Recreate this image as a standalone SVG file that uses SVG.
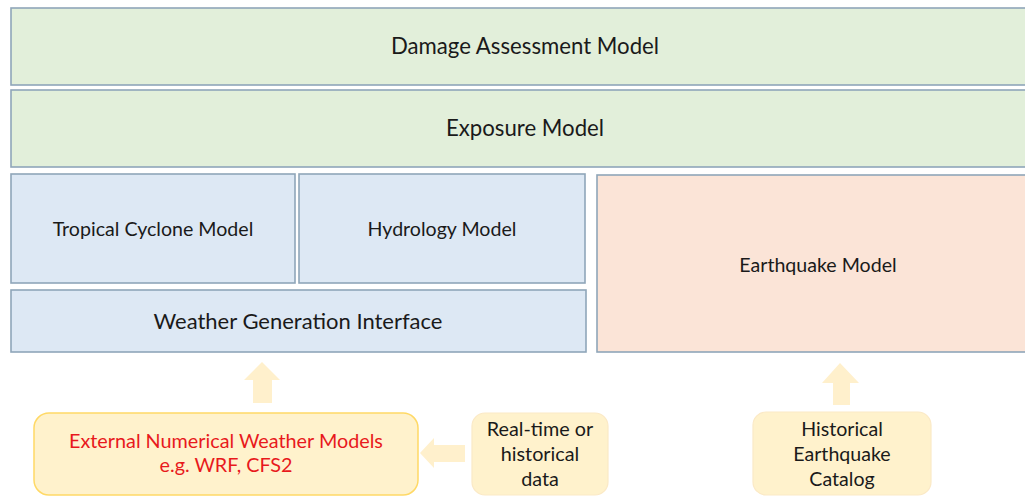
<svg xmlns="http://www.w3.org/2000/svg" width="1025" height="496" viewBox="0 0 1025 496">
<style>
.box{stroke:#8fa6b9;stroke-width:1.6}
.g{fill:#e2efda}
.b{fill:#dde8f4}
.o{fill:#fbe4d7}
.t{font-family:Lato,"Open Sans","Liberation Sans",sans-serif;fill:#1a1a1a;text-anchor:middle}
.arr{fill:#fff0cc}
</style>
<rect width="1025" height="496" fill="#ffffff"/>
<g id="damage"><rect class="box g" x="11" y="8" width="1020" height="77"/><text class="t" x="525" y="54" font-size="22.2">Damage Assessment Model</text></g>
<g id="exposure"><rect class="box g" x="11" y="90" width="1020" height="77"/><text class="t" x="525" y="136" font-size="22.2">Exposure Model</text></g>
<g id="tropical"><rect class="box b" x="11" y="174" width="284" height="109"/><text class="t" x="153" y="236" font-size="19.6">Tropical Cyclone Model</text></g>
<g id="hydrology"><rect class="box b" x="299" y="174" width="286" height="109"/><text class="t" x="442" y="236" font-size="19.6">Hydrology Model</text></g>
<g id="weather"><rect class="box b" x="11" y="290" width="575" height="62"/><text class="t" x="298" y="329" font-size="22">Weather Generation Interface</text></g>
<g id="earthquake"><rect class="box o" x="597" y="175" width="434" height="177"/><text class="t" x="818" y="272" font-size="19.6">Earthquake Model</text></g>
<g id="connectors">
<polygon class="arr" points="262,362 280,380 272,380 272,403 253,403 253,380 244,380"/>
<polygon class="arr" points="840,363 859,383 850,383 850,405 833,405 833,383 822,383"/>
<polygon class="arr" points="420,453 434,438 434,445 465,445 465,462 434,462 434,468"/>
</g>
<g id="external"><rect x="34" y="413" width="384" height="82" rx="15" fill="#fff2cc" stroke="#ffd966" stroke-width="1.5"/><text class="t" x="226" y="448" font-size="19.8" style="fill:#e8191c">External Numerical Weather Models</text><text class="t" x="226" y="472" font-size="19.8" style="fill:#e8191c">e.g. WRF, CFS2</text></g>
<g id="realtime"><rect x="472" y="413" width="136" height="82" rx="13" fill="#fff2cc" stroke="#fbe9c6" stroke-width="1.2"/><text class="t" x="540" y="436" font-size="19.8">Real-time or</text><text class="t" x="540" y="461" font-size="19.8">historical</text><text class="t" x="540" y="486" font-size="19.8">data</text></g>
<g id="catalog"><rect x="753" y="412" width="178" height="83" rx="13" fill="#fff2cc" stroke="#fbe9c6" stroke-width="1.2"/><text class="t" x="842" y="436" font-size="19.6">Historical</text><text class="t" x="842" y="461" font-size="19.6">Earthquake</text><text class="t" x="842" y="486" font-size="19.6">Catalog</text></g>
</svg>
